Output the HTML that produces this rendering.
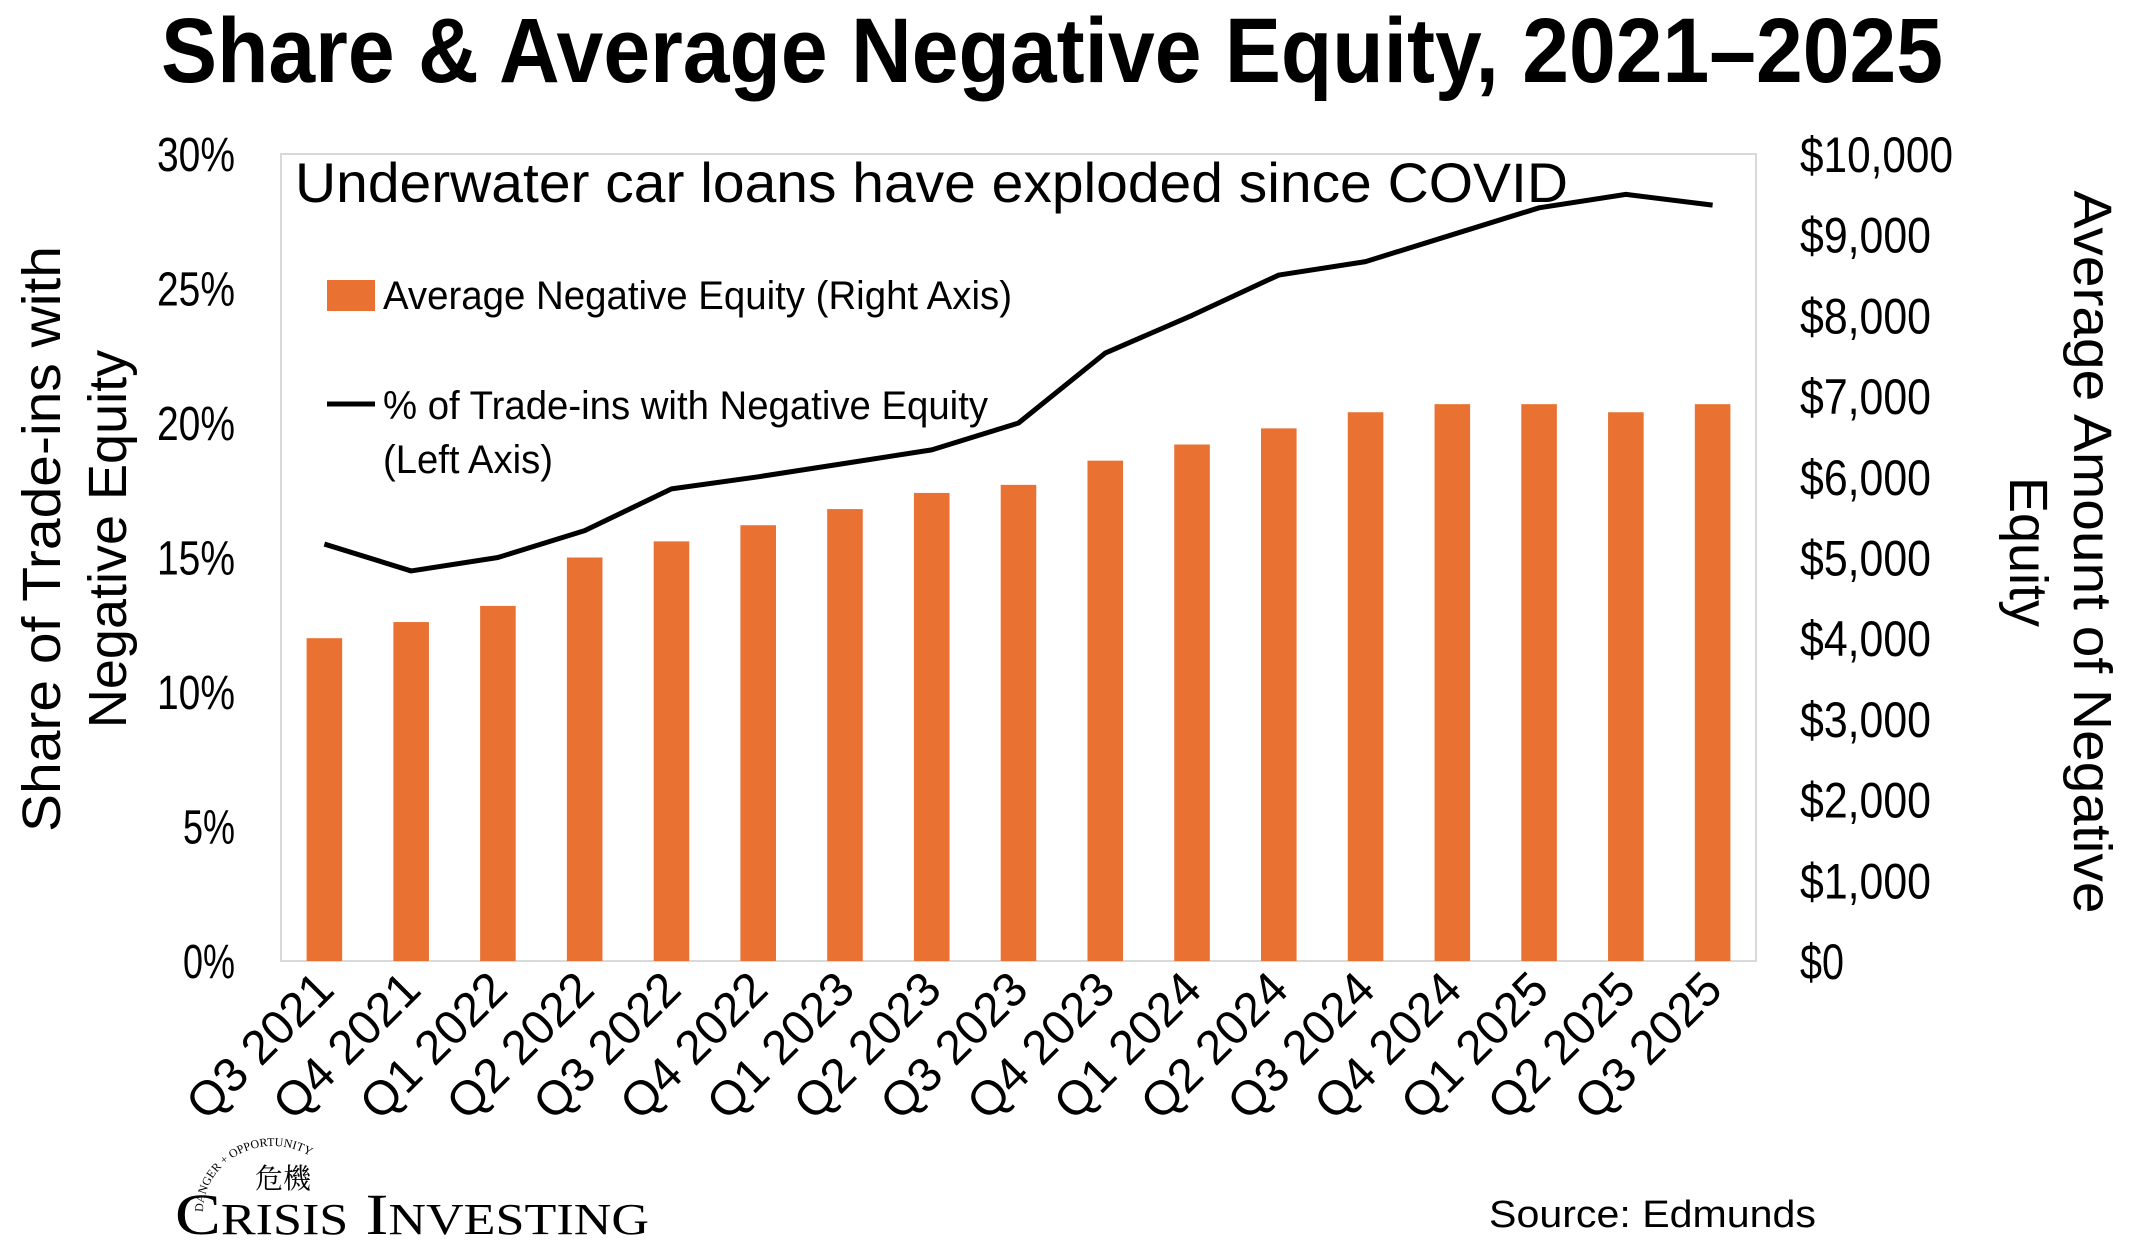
<!DOCTYPE html>
<html><head><meta charset="utf-8"><style>
html,body{margin:0;padding:0;background:#fff;}
svg{display:block;font-family:"Liberation Sans",Arial,sans-serif;}
</style></head><body>
<svg id="chart" width="2138" height="1260" viewBox="0 0 2138 1260" xmlns="http://www.w3.org/2000/svg">
<text x="1052" y="82" text-anchor="middle" font-size="92" font-weight="bold" textLength="1782" lengthAdjust="spacingAndGlyphs">Share &amp; Average Negative Equity, 2021–2025</text>
<rect x="281" y="154" width="1475" height="807" fill="none" stroke="#d9d9d9" stroke-width="2"/>
<g id="bars"></g>
<g id="line"></g>
<g id="lticks"></g>
<g id="rticks"></g>
<g id="xticks"></g>
<text x="295" y="202" font-size="56" textLength="1273" lengthAdjust="spacingAndGlyphs">Underwater car loans have exploded since COVID</text>
<rect x="327" y="280" width="48" height="31" fill="#E97132"/>
<text x="383" y="309" font-size="40" textLength="629" lengthAdjust="spacingAndGlyphs">Average Negative Equity (Right Axis)</text>
<line x1="327" y1="404" x2="375" y2="404" stroke="#000" stroke-width="5"/>
<text x="383" y="419" font-size="40" textLength="605" lengthAdjust="spacingAndGlyphs">% of Trade-ins with Negative Equity</text>
<text x="383" y="473" font-size="40" textLength="170" lengthAdjust="spacingAndGlyphs">(Left Axis)</text>
<g transform="translate(0,539) rotate(-90)">
<text x="0" y="60" text-anchor="middle" font-size="54" textLength="586" lengthAdjust="spacingAndGlyphs">Share of Trade-ins with</text>
<text x="0" y="126" text-anchor="middle" font-size="54">Negative Equity</text>
</g>
<g transform="translate(2138,552) rotate(90)">
<text x="0" y="64" text-anchor="middle" font-size="54" textLength="723" lengthAdjust="spacingAndGlyphs">Average Amount of Negative</text>
<text x="0" y="128" text-anchor="middle" font-size="54">Equity</text>
</g>
<g>
<text x="255" y="1188" font-size="28" font-family="'Noto Serif CJK SC','Noto Sans CJK SC',serif">危機</text>
<path id="arc" d="M203,1212 A70,66 0 0 1 343,1212" fill="none"/>
<text font-size="12" font-family="'Liberation Serif',serif"><textPath href="#arc">DANGER + OPPORTUNITY</textPath></text>
<text x="175" y="1234" font-size="58" font-family="'Liberation Serif',serif" textLength="474" lengthAdjust="spacingAndGlyphs">C<tspan font-size="44">RISIS</tspan> I<tspan font-size="44">NVESTING</tspan></text>
</g>
<text x="1489" y="1227" font-size="38" textLength="327" lengthAdjust="spacingAndGlyphs">Source: Edmunds</text>
</svg>
<script>
const categories = ["Q3 2021","Q4 2021","Q1 2022","Q2 2022","Q3 2022","Q4 2022","Q1 2023","Q2 2023","Q3 2023","Q4 2023","Q1 2024","Q2 2024","Q3 2024","Q4 2024","Q1 2025","Q2 2025","Q3 2025"];
const avgNegEquity = [4000,4200,4400,5000,5200,5400,5600,5800,5900,6200,6400,6600,6800,6900,6900,6800,6900];
const sharePct = [15.5,14.5,15.0,16.0,17.55,18.0,18.5,19.0,20.0,22.6,24.0,25.5,26.0,27.0,28.0,28.5,28.1];
const leftTicks = [0,5,10,15,20,25,30];
const rightTicks = [0,1000,2000,3000,4000,5000,6000,7000,8000,9000,10000];

const NS="http://www.w3.org/2000/svg";
const X0=281, X1=1756, Y0=961, Y1=154;
const band=(X1-X0)/categories.length;
const xc=i=>X0+band*(i+0.5);
const yL=v=>Y0-(v/30)*(Y0-Y1);
const yR=v=>Y0-(v/10000)*(Y0-Y1);
function mk(tag,attrs,parent){const e=document.createElementNS(NS,tag);for(const k in attrs)e.setAttribute(k,attrs[k]);parent.appendChild(e);return e;}
const bars=document.getElementById('bars');
const bw=band*0.41;
avgNegEquity.forEach((v,i)=>{
  const r=mk('rect',{x:xc(i)-bw/2,y:yR(v),width:bw,height:Y0-yR(v),fill:'#E97132'},bars);
  
  
});
const lg=document.getElementById('line');
const pl=mk('polyline',{points:sharePct.map((v,i)=>xc(i)+','+yL(v)).join(' '),fill:'none',stroke:'#000','stroke-width':5,'stroke-linejoin':'round'},lg);


const lt=document.getElementById('lticks');
leftTicks.forEach(v=>{
  const s=v+'%';
  const t=mk('text',{x:235,y:yL(v)+17,'text-anchor':'end','font-size':48,textLength:s.length*26,lengthAdjust:'spacingAndGlyphs'},lt);
  t.textContent=s;
  
  
});
const rt=document.getElementById('rticks');
rightTicks.forEach(v=>{
  const s='$'+v.toLocaleString('en-US');
  const t=mk('text',{x:1800,y:yR(v)+18,'font-size':50,textLength:(s.length===7?153:s.length===6?131:s.length*22),lengthAdjust:'spacingAndGlyphs'},rt);
  t.textContent=s;
  
  
});
const xt=document.getElementById('xticks');
categories.forEach((c,i)=>{
  const x=xc(i)+12,y=992;
  const t=mk('text',{x:x,y:y,'text-anchor':'end','font-size':48,transform:'rotate(-45 '+x+' '+y+')'},xt);
  t.textContent=c;
  
  
});
</script>
</body></html>
